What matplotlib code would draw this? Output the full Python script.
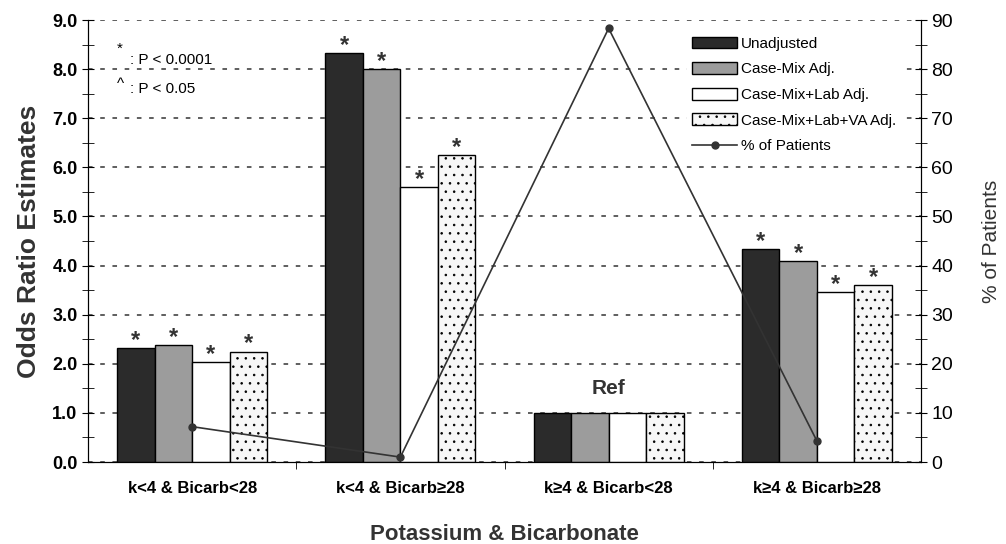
import matplotlib.pyplot as plt
import numpy as np

plt.rcParams['font.family'] = ['Liberation Sans', 'DejaVu Sans']
plt.rcParams['hatch.linewidth'] = 0.6

groups = ["k<4 & Bicarb<28", "k<4 & Bicarb≥28", "k≥4 & Bicarb<28", "k≥4 & Bicarb≥28"]
series = ["Unadjusted", "Case-Mix Adj.", "Case-Mix+Lab Adj.", "Case-Mix+Lab+VA Adj."]
unadj = [2.33, 8.33, 1.0, 4.34]
casemix = [2.38, 8.0, 1.0, 4.1]
cm_lab = [2.04, 5.6, 1.0, 3.47]
cm_lab_va = [2.25, 6.25, 1.0, 3.6]
pct_patients = [7.2, 1.0, 88.3, 4.3]
signif = [True, True, False, True]

colors = ['#2b2b2b', '#9c9c9c', 'white', '#f7f7f7']
hatches = [None, None, None, '..']

fig = plt.figure(figsize=(10.06, 5.44), dpi=100)
ax = fig.add_axes([0.0875, 0.1507, 0.828, 0.8125])
ax2 = ax.twinx()

x = np.arange(len(groups))
w = 0.18
vals = [unadj, casemix, cm_lab, cm_lab_va]
for i, v in enumerate(vals):
    pos = x + (i - 1.5) * w
    ax.bar(pos, v, width=w, color=colors[i], edgecolor='black', linewidth=1,
           hatch=hatches[i], label=series[i], zorder=3)
    for p, val, s in zip(pos, v, signif):
        if s:
            ax.text(p, val - 0.08, '*', ha='center', va='bottom', fontsize=17,
                    fontweight='bold', color='#333333', zorder=4)

ax.text(x[2], 1.3, 'Ref', ha='center', va='bottom', fontsize=15, fontweight='bold', color='#333333')

ax.set_xlim(-0.5, 3.5)
ax.set_ylim(0, 9)
ax.set_yticks(np.arange(0, 9.1, 1))
ax.set_yticklabels(['%.1f' % t for t in np.arange(0, 9.1, 1)])
ax.set_yticks(np.arange(0.5, 9, 1), minor=True)
ax.yaxis.grid(True, which='major', color='#333333', linestyle=(0, (3, 5)), linewidth=1.1, zorder=0)
ax.set_axisbelow(True)
ax.set_xticks(x)
ax.set_xticklabels(groups, fontsize=12, fontweight='bold')
ax.set_xticks([0.5, 1.5, 2.5], minor=True)
ax.tick_params(axis='x', which='major', length=0, pad=14)
ax.tick_params(axis='x', which='minor', length=5, direction='out')
ax.tick_params(axis='y', which='both', direction='inout', length=8, labelsize=13)
for lab in ax.get_yticklabels():
    lab.set_fontweight('bold')
ax.set_ylabel('Odds Ratio Estimates', fontsize=19, fontweight='bold', labelpad=8, color='#333333')
ax.set_xlabel('Potassium & Bicarbonate', fontsize=16, fontweight='bold', labelpad=20, color='#333333')
ax.spines['top'].set_visible(False)
ax2.spines['top'].set_visible(False)

ax2.plot(x, pct_patients, color='#333333', linewidth=1.2, marker='o', markersize=5,
         label='% of Patients', zorder=5)
ax2.set_ylim(0, 90)
ax2.set_yticks(np.arange(0, 91, 10))
ax2.set_yticks(np.arange(5, 90, 10), minor=True)
ax2.tick_params(axis='y', which='both', direction='inout', length=8, labelsize=14)
ax2.set_ylabel('% of Patients', fontsize=15, labelpad=21, color='#333333')
# line above bars
ax2.set_zorder(ax.get_zorder() + 1)
ax2.patch.set_visible(False)

h1, l1 = ax.get_legend_handles_labels()
h2, l2 = ax2.get_legend_handles_labels()
leg = ax2.legend(h1 + h2, l1 + l2, loc='upper left', bbox_to_anchor=(0.71, 0.99), frameon=True,
                 fontsize=11, handlelength=3.0, handleheight=0.8, handletextpad=0.2,
                 labelspacing=0.75, fancybox=False, framealpha=1, borderpad=0.3)
leg.get_frame().set_edgecolor('white')
leg.get_frame().set_facecolor('white')

ax.text(0.035, 0.925, '*', transform=ax.transAxes, fontsize=11)
ax.text(0.05, 0.90, ': P < 0.0001', transform=ax.transAxes, fontsize=11)
ax.text(0.035, 0.846, '^', transform=ax.transAxes, fontsize=11)
ax.text(0.05, 0.835, ': P < 0.05', transform=ax.transAxes, fontsize=11)

fig.savefig('out.png', dpi=100)
